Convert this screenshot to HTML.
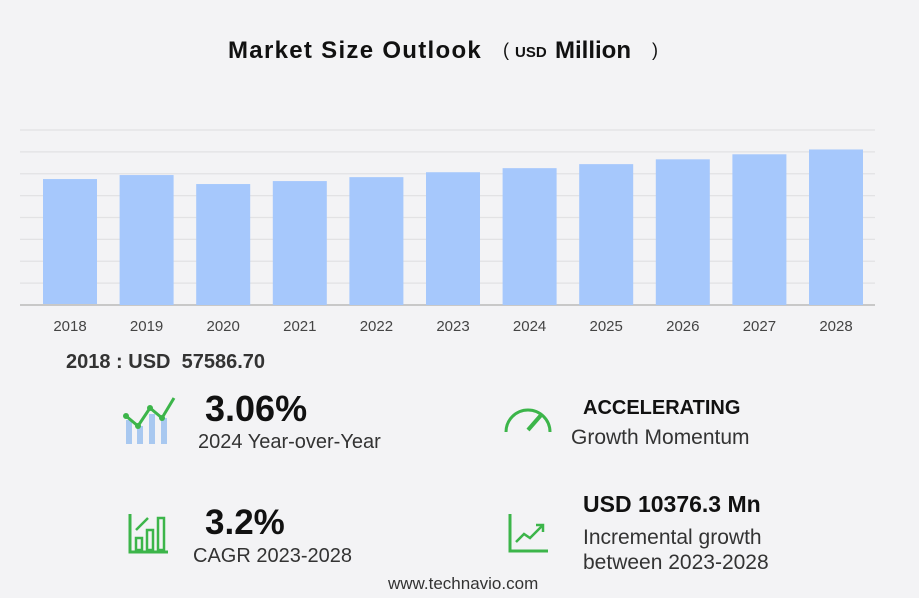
<!DOCTYPE html>
<html><head><meta charset="utf-8"><style>
body{margin:0;width:919px;height:598px;background:#f3f3f5;font-family:"Liberation Sans",sans-serif;position:relative;overflow:hidden;color:#111}
.a{position:absolute;white-space:nowrap}
</style></head><body>
<div class="a" style="left:228px;top:37px;font-size:24px;font-weight:bold;letter-spacing:1.3px">Market Size Outlook</div>
<div class="a" style="left:503px;top:40px;font-size:18px">(</div>
<div class="a" style="left:515px;top:44px;font-size:15px;font-weight:bold">USD</div>
<div class="a" style="left:555px;top:37px;font-size:24px;font-weight:bold">Million</div>
<div class="a" style="left:652px;top:40px;font-size:18px">)</div>
<svg class="a" style="left:0;top:0" width="919" height="345" id="chart"></svg>
<div class="a" style="left:66px;top:351px;font-size:20px;font-weight:bold;color:#333">2018 : USD&nbsp; 57586.70</div>

<svg class="a" style="left:122px;top:392px" width="58" height="56">
<rect x="4" y="28" width="6" height="24" fill="#a8c8f0"/><rect x="15" y="34" width="6" height="18" fill="#a8c8f0"/><rect x="27" y="22" width="6" height="30" fill="#a8c8f0"/><rect x="39" y="26" width="6" height="26" fill="#a8c8f0"/>
<polyline points="4,24 16,34 28,16 40,26 52,6" fill="none" stroke="#3cb54a" stroke-width="3"/><circle cx="4" cy="24" r="3" fill="#3cb54a"/><circle cx="16" cy="34" r="3" fill="#3cb54a"/><circle cx="28" cy="16" r="3" fill="#3cb54a"/><circle cx="40" cy="26" r="3" fill="#3cb54a"/></svg>
<div class="a" style="left:205px;top:388px;font-size:36px;font-weight:bold">3.06%</div>
<div class="a" style="left:198px;top:431px;font-size:20px;color:#333">2024 Year-over-Year</div>

<svg class="a" style="left:502px;top:402px" width="52" height="34">
<path d="M4,30 A22,22 0 0 1 48,30" fill="none" stroke="#3cb54a" stroke-width="3"/><line x1="26" y1="28" x2="40" y2="12" stroke="#3cb54a" stroke-width="4"/></svg>
<div class="a" style="left:583px;top:397px;font-size:20px;font-weight:bold">ACCELERATING</div>
<div class="a" style="left:571px;top:426px;font-size:21px;color:#333">Growth Momentum</div>

<svg class="a" style="left:128px;top:512px" width="42" height="44">
<path d="M2,2 V40 H40" fill="none" stroke="#3cb54a" stroke-width="3"/><rect x="8" y="26" width="6" height="12" fill="none" stroke="#3cb54a" stroke-width="2.5"/><rect x="19" y="18" width="6" height="20" fill="none" stroke="#3cb54a" stroke-width="2.5"/><rect x="30" y="6" width="6" height="32" fill="none" stroke="#3cb54a" stroke-width="2.5"/><line x1="8" y1="18" x2="20" y2="6" stroke="#3cb54a" stroke-width="2.5"/></svg>
<div class="a" style="left:205px;top:503px;font-size:35px;font-weight:bold">3.2%</div>
<div class="a" style="left:193px;top:545px;font-size:20px;color:#333">CAGR 2023-2028</div>

<svg class="a" style="left:508px;top:514px" width="42" height="40">
<path d="M2,0 V37 H40" fill="none" stroke="#3cb54a" stroke-width="3"/><polyline points="8,28 16,20 22,24 34,12" fill="none" stroke="#3cb54a" stroke-width="2.5"/><polyline points="28,11 35,11 35,18" fill="none" stroke="#3cb54a" stroke-width="2.5"/></svg>
<div class="a" style="left:583px;top:491px;font-size:23px;font-weight:bold">USD 10376.3 Mn</div>
<div class="a" style="left:583px;top:525px;font-size:21px;color:#333;line-height:25px">Incremental growth<br>between 2023-2028</div>
<div class="a" style="left:388px;top:574px;font-size:17px;color:#333">www.technavio.com</div>
<script>
const years=["2018","2019","2020","2021","2022","2023","2024","2025","2026","2027","2028"];
const values=[57586.7,59400,55300,56650,58450,60700,62560,64400,66600,68900,71100];
const yMax=80000;
const gridCount=8;
const svg=document.getElementById('chart');
const NS='http://www.w3.org/2000/svg';
const x0=20,x1=875,yTop=130,yBase=305;
const yScale=v=>yBase-(v/yMax)*(yBase-yTop);
const band=76.6;
const xScale=i=>43+i*band;
for(let g=0;g<=gridCount;g++){
 const y=yTop+g*(yBase-yTop)/gridCount;
 const l=document.createElementNS(NS,'line');
 l.setAttribute('x1',x0);l.setAttribute('x2',x1);l.setAttribute('y1',y);l.setAttribute('y2',y);
 l.setAttribute('stroke',g==gridCount?'#c8c8c8':'#e2e2e4');l.setAttribute('stroke-width',g==gridCount?2:1.2);
 
 
 svg.appendChild(l);
}
years.forEach((yr,i)=>{
 const r=document.createElementNS(NS,'rect');
 const y=yScale(values[i]);
 r.setAttribute('x',xScale(i));r.setAttribute('y',y);r.setAttribute('width',54);r.setAttribute('height',yBase-y);r.setAttribute('fill','#a6c8fc');
 
 
 svg.insertBefore(r,svg.lastChild);
 const t=document.createElementNS(NS,'text');
 t.setAttribute('x',xScale(i)+27);t.setAttribute('y',331);t.setAttribute('text-anchor','middle');t.setAttribute('font-size','15');t.setAttribute('fill','#444');t.setAttribute('font-family','Liberation Sans');
 t.textContent=yr;
 
 
 svg.appendChild(t);
});
</script>
</body></html>
